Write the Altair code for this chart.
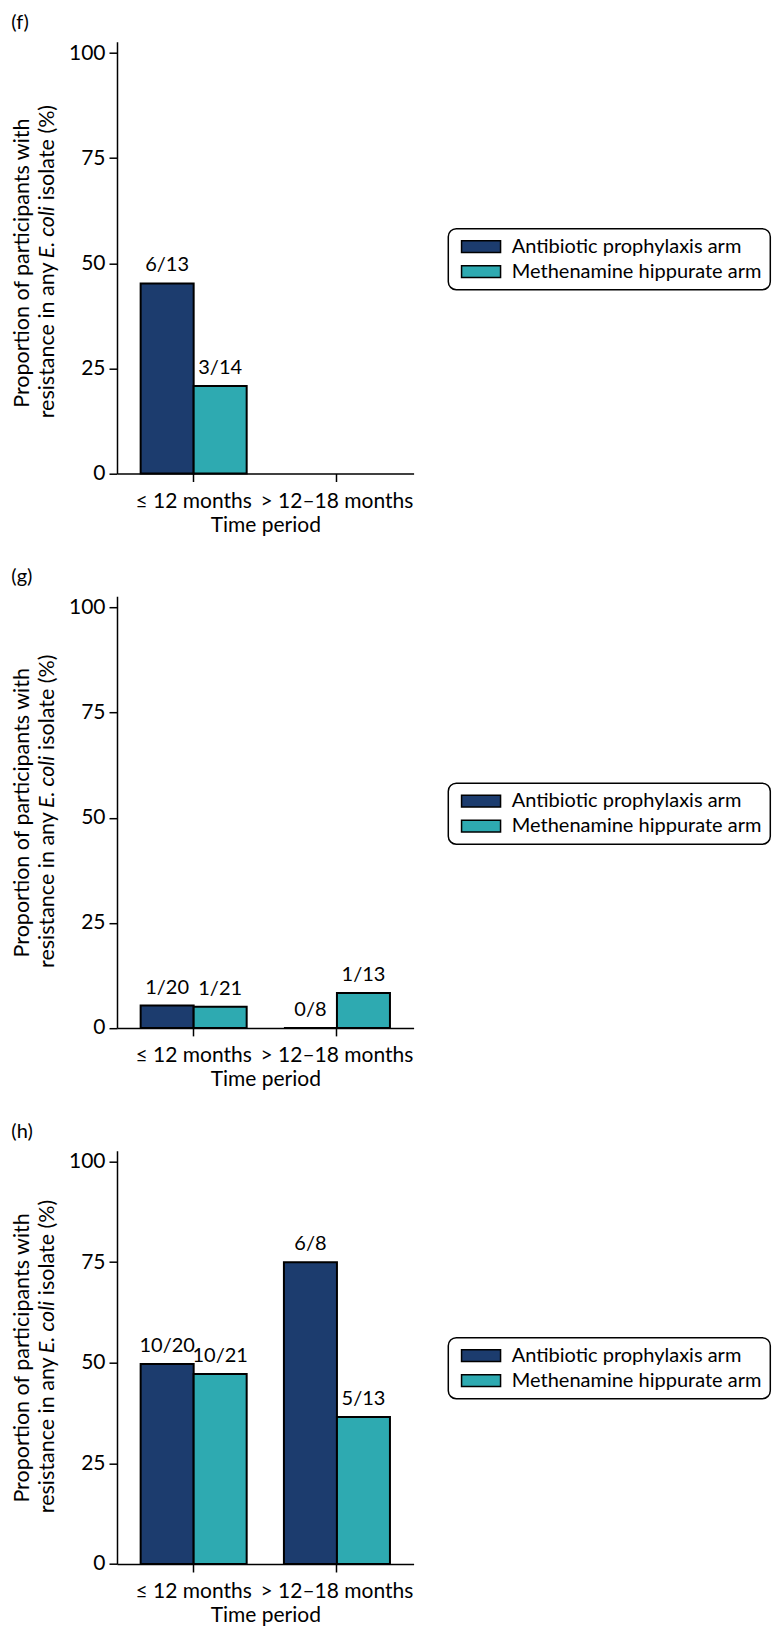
import altair as alt
import pandas as pd

# ---------------- data ----------------
periods = ["≤ 12 months", "> 12–18 months"]
arms = ["Antibiotic prophylaxis arm", "Methenamine hippurate arm"]
arm_colors = ["#1c3c6e", "#2eaab1"]
panel_letters = ["(f)", "(g)", "(h)"]

f_period = ["≤ 12 months", "≤ 12 months"]
f_arm = ["Antibiotic prophylaxis arm", "Methenamine hippurate arm"]
f_pct = [45.2, 20.8]
f_text = ["6/13", "3/14"]

g_period = ["≤ 12 months", "≤ 12 months", "> 12–18 months", "> 12–18 months"]
g_arm = ["Antibiotic prophylaxis arm", "Methenamine hippurate arm",
         "Antibiotic prophylaxis arm", "Methenamine hippurate arm"]
g_pct = [5.3, 5.0, 0.0, 8.3]
g_text = ["1/20", "1/21", "0/8", "1/13"]

h_period = ["≤ 12 months", "≤ 12 months", "> 12–18 months", "> 12–18 months"]
h_arm = ["Antibiotic prophylaxis arm", "Methenamine hippurate arm",
         "Antibiotic prophylaxis arm", "Methenamine hippurate arm"]
h_pct = [49.7, 47.2, 75.0, 36.5]
h_text = ["10/20", "10/21", "6/8", "5/13"]

y_ticks = [0, 25, 50, 75, 100]
y_title_line1 = "Proportion of participants with"
y_title_line2 = ["resistance in any", "E. coli", "isolate (%)"]
x_title = "Time period"

FONT = "Lato"
FS_AX = 21      # tick labels / x title
FS_LAB = 20     # bar labels, legend, panel letters
FS_T = 21.5     # y title
W = 296.6
# approximate rendered widths of the three pieces of the 2nd title line (px)
SEG_W = [160, 58, 92.5]


def lone_text(s, x, y, size=FS_LAB, **kw):
    return alt.Chart(pd.DataFrame({"s": [s]})).mark_text(
        font=FONT, fontSize=size, color="black", **kw
    ).encode(text="s:N", x=alt.value(x), y=alt.value(y))


def panel(letter, per, arm, pct, txt, height, shift):
    df = pd.DataFrame({"period": per, "arm": arm, "pct": pct, "label": txt})
    base = alt.Chart(df)
    x = alt.X(
        "period:N",
        title=x_title,
        scale=alt.Scale(domain=periods, paddingInner=0.26, paddingOuter=0.165),
        axis=alt.Axis(labelAngle=0, tickSize=8, labelPadding=9, titlePadding=3,
                      labelFontSize=FS_AX, titleFontSize=FS_AX, titleFontWeight="normal",
                      labelFont=FONT, titleFont=FONT, labelColor="black",
                      titleColor="black", domainColor="black", tickColor="black",
                      domainWidth=1.5, tickWidth=1.5),
    )
    xo = alt.XOffset("arm:N", scale=alt.Scale(domain=arms, paddingInner=0, paddingOuter=0))
    y = alt.Y(
        "pct:Q",
        title=None,
        scale=alt.Scale(domain=[0, 102.7], nice=False, zero=True),
        axis=alt.Axis(values=y_ticks, tickSize=8, labelPadding=4, labelFontSize=FS_AX,
                      labelFont=FONT, labelColor="black", domainColor="black",
                      tickColor="black", domainWidth=1.5, tickWidth=1.5, grid=False),
    )
    color = alt.Color(
        "arm:N",
        scale=alt.Scale(domain=arms, range=arm_colors),
        legend=alt.Legend(title=None, orient="none", legendX=331.3, legendY=187,
                          direction="vertical"),
    )
    bars = base.mark_bar(stroke="black", strokeWidth=2).encode(x=x, xOffset=xo, y=y, color=color)
    labels = base.mark_text(font=FONT, fontSize=FS_LAB, color="black", baseline="alphabetic",
                            dy=-12).encode(x=x, xOffset=xo, y=y, text="label:N")
    c = height / 2 + shift
    start = c + sum(SEG_W) / 2
    layers = [
        bars,
        labels,
        lone_text(letter, -105.7, -29, align="left", baseline="top"),
        lone_text(y_title_line1, -87.7, c, size=FS_T, angle=270, align="center",
                  baseline="alphabetic"),
        lone_text(y_title_line2[0], -62.5, start, size=FS_T, angle=270, align="left",
                  baseline="alphabetic"),
        lone_text(y_title_line2[1], -62.5, start - SEG_W[0], size=FS_T, angle=270,
                  align="left", baseline="alphabetic", fontStyle="italic"),
        lone_text(y_title_line2[2], -62.5, start - SEG_W[0] - SEG_W[1], size=FS_T,
                  angle=270, align="left", baseline="alphabetic"),
    ]
    return alt.layer(*layers).properties(width=W, height=height)


pf = panel(panel_letters[0], f_period, f_arm, f_pct, f_text, 431.8, 5.5)
pg = panel(panel_letters[1], g_period, g_arm, g_pct, g_text, 431.7, 0.7)
ph = panel(panel_letters[2], h_period, h_arm, h_pct, h_text, 413.3, 0.6)

chart = alt.vconcat(pf, pg, ph, spacing=122.5, bounds="flush").resolve_legend(
    color="independent"
).properties(
    padding={"left": 11, "top": 12.7, "right": 0, "bottom": 0}
).configure_view(strokeWidth=0).configure_legend(
    labelFont=FONT, labelFontSize=FS_LAB, labelColor="black", labelLimit=400,
    symbolType="M-0.79,-0.975H5.71V0.975H-0.79Z", symbolSize=144,
    symbolStrokeColor="black", symbolStrokeWidth=1.5, symbolOpacity=1,
    labelOffset=35.5, rowPadding=5, padding=8, strokeColor="black",
    strokeWidth=1.5, fillColor="white", cornerRadius=8,
)

chart.save("out.html", embed_options={"renderer": "svg", "actions": False})
